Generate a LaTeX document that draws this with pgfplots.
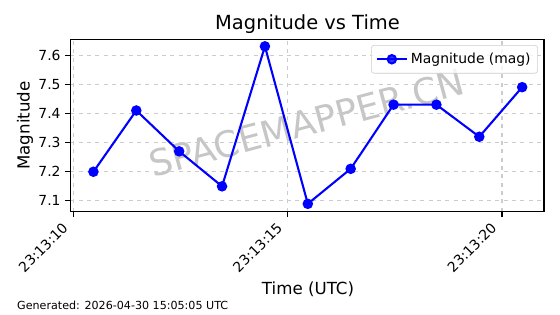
\documentclass[border=0pt]{standalone}
\usepackage{fontspec}
\setmainfont{DejaVu Sans}
\usepackage{pgfplots}
\pgfplotsset{compat=1.18}
\definecolor{gridgray}{RGB}{204,204,204}
\begin{document}
\begin{tikzpicture}[x=1pt,y=1pt]
\useasboundingbox (0,0) rectangle (403.2,226.08);
\node[rotate=15, text=gray, opacity=0.45, font=\fontsize{26}{30}\selectfont] at (221,137.5) {SPACEMAPPER.CN};
\begin{axis}[
  at={(50.6pt,73.66pt)}, anchor=south west,
  scale only axis, width=341.1pt, height=124.1pt,
  xmin=9.93, xmax=20.98, ymin=7.063, ymax=7.654,
  xtick={10,15,20},
  xticklabels={23:13:10,23:13:15,23:13:20},
  ytick={7.1,7.2,7.3,7.4,7.5,7.6},
  yticklabel style={/pgf/number format/fixed,/pgf/number format/precision=1,/pgf/number format/fixed zerofill},
  /pgf/number format/assume math mode=true,
  xticklabel style={xshift=-5pt, yshift=-5.6pt, rotate=45, anchor=east, font=\fontsize{10}{12}\selectfont, inner sep=1pt},
  yticklabel style={font=\fontsize{10}{12}\selectfont},
  tick align=outside, xtick pos=left, ytick pos=left,
  major tick length=3.5pt,
  tick style={black, line width=0.8pt},
  axis line style={line width=0.8pt},
  grid=major,
  major grid style={dashed, gridgray, line width=0.8pt},
  ylabel={Magnitude},
  ylabel style={font=\fontsize{12}{14}\selectfont, yshift=-3pt},
  legend style={at={(0.987,0.967)}, anchor=north east, draw=gridgray, rounded corners=2pt, fill=white, fill opacity=0.8, text opacity=1, font=\fontsize{10}{12}\selectfont, inner xsep=3pt, inner ysep=3.5pt},
  legend cell align=left,
  legend image code/.code={\draw[#1, mark repeat=2, mark phase=2] plot coordinates {(0pt,0pt) (11pt,0pt) (22pt,0pt)};},
]
\addplot[blue, line width=1.5pt, mark=*, mark size=3pt, mark options={solid, fill=blue, draw=blue}] coordinates {
(10.47,7.20) (11.47,7.41) (12.47,7.27) (13.47,7.15) (14.47,7.63) (15.47,7.09)
(16.47,7.21) (17.47,7.43) (18.47,7.43) (19.47,7.32) (20.47,7.49)
};
\addlegendentry{Magnitude (mag)}
\end{axis}
\node[anchor=base, inner sep=0pt, font=\fontsize{14}{16}\selectfont] at (221.4,204.5) {Magnitude vs Time};
\node[inner sep=0pt, font=\fontsize{12}{14}\selectfont] at (221.8,18) {Time (UTC)};
\node[anchor=base west, inner sep=0pt, font=\fontsize{8}{10}\selectfont] at (12.2,3.6) {Generated: 2026-04-30 15:05:05 UTC};
\end{tikzpicture}
\end{document}
